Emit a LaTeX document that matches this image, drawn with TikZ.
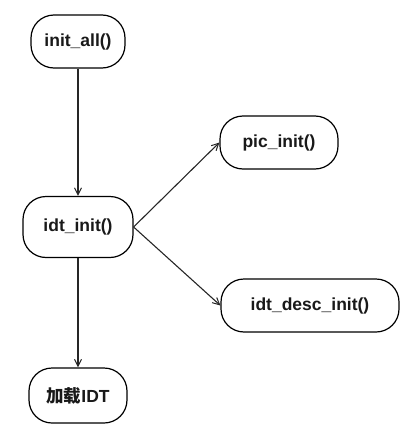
\documentclass[tikz,border=0pt]{standalone}
\usepackage{fontspec}
\setmainfont{Liberation Sans}
\newfontfamily\cjk{Noto Sans CJK SC}
\usetikzlibrary{arrows.meta}
\begin{document}
\begin{tikzpicture}[x=1pt,y=-1pt,
  fbox/.style={draw=black, line width=1.2pt, rounded corners=23pt, fill=white,
    inner sep=0pt, font=\fontsize{17.5}{20}\selectfont\bfseries, text=black!90},
  conn/.style={draw=black!85, line width=1.3pt, -{Straight Barb[length=7pt,width=7pt,line width=1pt]}},
  diag/.style={conn, line width=1.1pt}]
\useasboundingbox (0,0) rectangle (417,439);
\node[fbox, minimum width=94pt, minimum height=53pt] (initall) at (78,41.5) {init\_all()};
\node[fbox, minimum width=110pt, minimum height=61pt] (idtinit) at (78,227) {idt\_init()};
\node[fbox, minimum width=118pt, minimum height=53pt] (pic) at (279,142.5) {pic\_init()};
\node[fbox, minimum width=178pt, minimum height=53pt] (desc) at (310,305.5) {idt\_desc\_init()};
\node[fbox, minimum width=98pt, minimum height=55pt] (load) at (78,395.5) {{\cjk\bfseries 加载}IDT};
\draw[conn] (initall.south) -- (idtinit.north);
\draw[conn] (idtinit.south) -- (load.north);
\draw[diag] (idtinit.east) -- (pic.west);
\draw[diag] (idtinit.east) -- (desc.west);
\end{tikzpicture}
\end{document}
